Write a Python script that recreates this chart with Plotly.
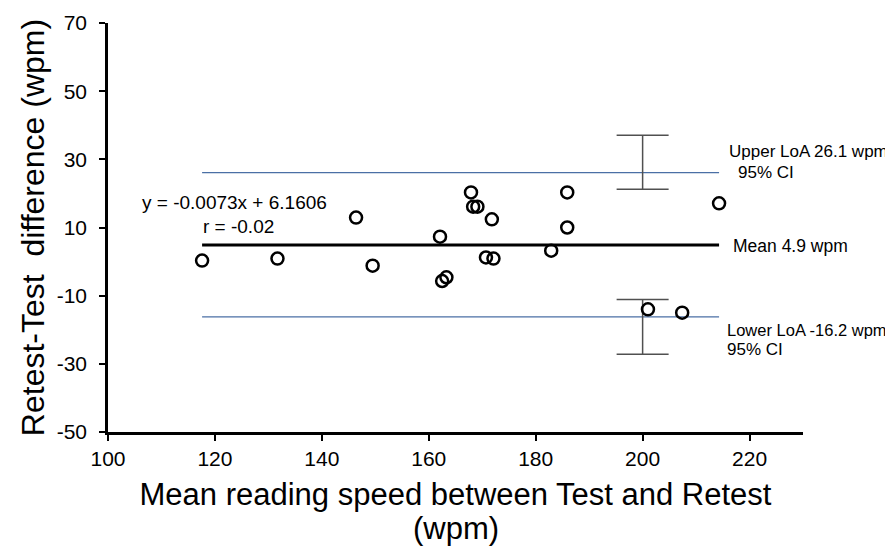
import plotly.graph_objects as go

# Data
mean_speed = [117.6, 131.7, 146.4, 149.5, 162.1, 162.5, 163.3, 167.9, 168.3, 169.1,
              170.7, 172.1, 171.8, 182.9, 185.9, 185.9, 214.3, 201.0, 207.4]
difference = [0.3, 0.9, 12.9, -1.2, 7.3, -5.7, -4.6, 20.3, 16.1, 16.1,
              1.2, 0.9, 12.4, 3.2, 20.3, 10.0, 17.1, -14.0, -15.0]

mean_diff = 4.9
upper_loa = 26.1
lower_loa = -16.2
ci_x = 200
upper_ci = [21.2, 37.1]
lower_ci = [-27.2, -11.1]

x_ticks = [100, 120, 140, 160, 180, 200, 220]
y_ticks = [-50, -30, -10, 10, 30, 50, 70]
y_tick_labels = ["-50", "-30", "-10", "10", "30", "50", "70"]

FONT = "Liberation Sans, Arial, sans-serif"
xmin, xmax = min(mean_speed), max(mean_speed)

fig = go.Figure()

# LoA lines
for val in (upper_loa, lower_loa):
    fig.add_trace(go.Scatter(x=[xmin, xmax], y=[val, val], mode="lines",
                             line=dict(color="#4a6fa5", width=1.2),
                             hoverinfo="skip", showlegend=False))
# Mean line
fig.add_trace(go.Scatter(x=[xmin, xmax], y=[mean_diff, mean_diff], mode="lines",
                         line=dict(color="black", width=3),
                         hoverinfo="skip", showlegend=False))

# CI error bars
for loa, ci in ((upper_loa, upper_ci), (lower_loa, lower_ci)):
    fig.add_trace(go.Scatter(
        x=[ci_x], y=[loa], mode="markers",
        marker=dict(size=1, color="rgba(0,0,0,0)"),
        error_y=dict(type="data", symmetric=False,
                     array=[ci[1] - loa], arrayminus=[loa - ci[0]],
                     color="#505050", thickness=1.5, width=26),
        hoverinfo="skip", showlegend=False))

# Points
fig.add_trace(go.Scatter(x=mean_speed, y=difference, mode="markers",
                         marker=dict(symbol="circle", size=12, color="rgba(0,0,0,0)",
                                     line=dict(color="black", width=2.5)),
                         showlegend=False))

ann = [
    ("y = -0.0073x + 6.1606", 106.0, 17.2, 19),
    ("r = -0.02", 117.4, 10.2, 19),
    ("Upper LoA 26.1 wpm", 215.8, 32.2, 17),
    ("95% CI", 217.4, 26.0, 17),
    ("Mean 4.9 wpm", 216.6, 4.6, 17.5),
    ("Lower LoA -16.2 wpm", 215.4, -20.0, 16.5),
    ("95% CI", 215.4, -25.9, 17),
]
for text, ax, ay, fs in ann:
    fig.add_annotation(x=ax, y=ay, xref="x", yref="y", text=text, showarrow=False,
                       xanchor="left", yanchor="middle",
                       font=dict(family=FONT, size=fs, color="black"))

# second line of the x-axis title
fig.add_annotation(x=0.5, y=-0.237, xref="paper", yref="paper", text="(wpm)",
                   showarrow=False, xanchor="center", yanchor="middle",
                   font=dict(family=FONT, size=31, color="black"))

# page body has an 8px margin; compensate so the plot area lands where the reference has it
fig.update_layout(
    width=885, height=540,
    margin=dict(l=100, r=90, t=15, b=116),
    plot_bgcolor="white", paper_bgcolor="white",
    font=dict(family=FONT, color="black"),
    xaxis=dict(range=[100, 230], tickvals=x_ticks, ticks="outside", ticklen=6, tickwidth=2,
               tickcolor="black", showline=True, linecolor="black", linewidth=2.5,
               showgrid=False, zeroline=False, tickfont=dict(size=21, family=FONT),
               automargin=False,
               title=dict(text="Mean reading speed between Test and Retest",
                          font=dict(size=31, family=FONT), standoff=15)),
    yaxis=dict(range=[-50, 70], tickvals=y_ticks, ticktext=y_tick_labels,
               ticks="outside", ticklen=6, tickwidth=2,
               tickcolor="black", showline=True, linecolor="black", linewidth=2.5,
               showgrid=False, zeroline=False, tickfont=dict(size=21, family=FONT),
               ticklabelstandoff=8, automargin=False,
               title=dict(text="Retest-Test  difference (wpm)",
                          font=dict(size=32, family=FONT), standoff=3)),
)

fig.write_html("out.html")
